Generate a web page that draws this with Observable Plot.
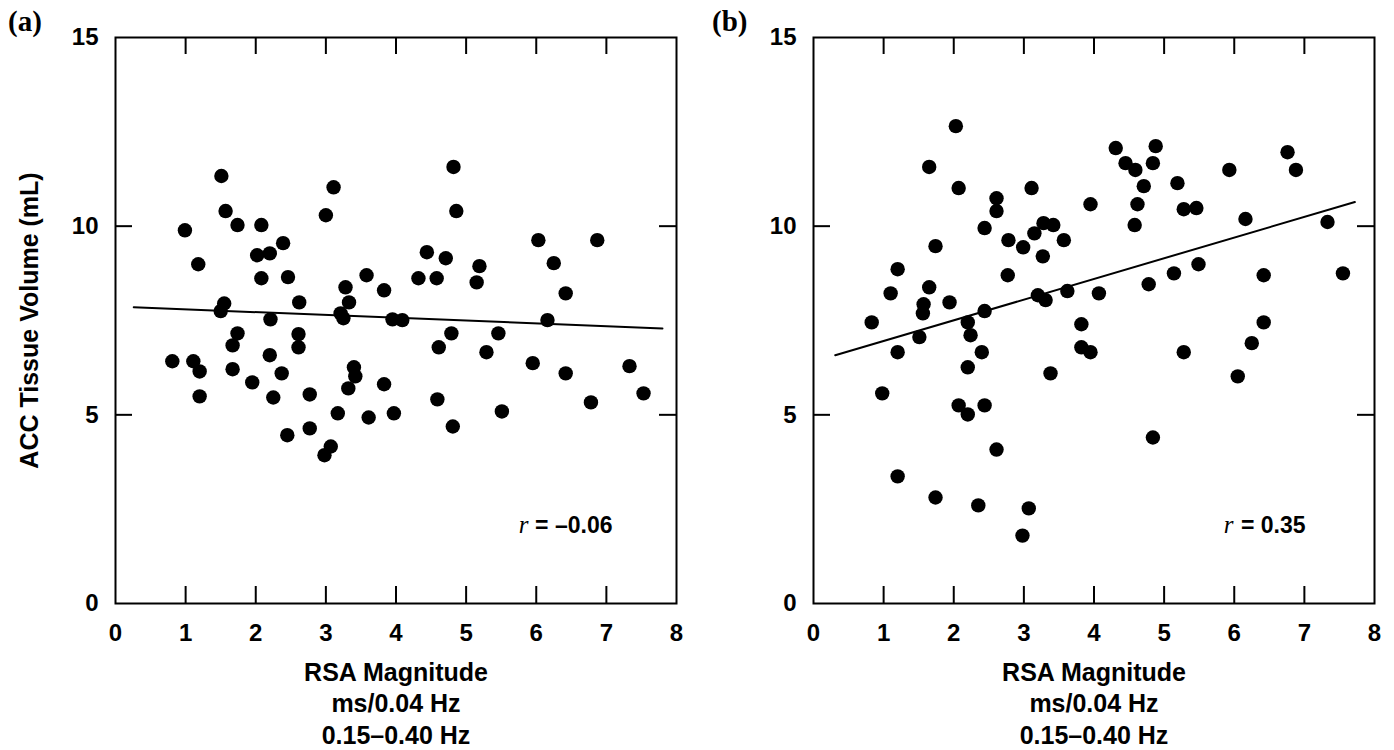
<!DOCTYPE html>
<html><head><meta charset="utf-8">
<script src="https://cdn.jsdelivr.net/npm/d3@7"></script>
<script src="https://cdn.jsdelivr.net/npm/@observablehq/plot@0.6"></script>
<style>
body{margin:0;background:#fff;}
#wrap{position:relative;width:1394px;height:750px;overflow:hidden;background:#fff;}
.panel{position:absolute;top:0;}
.tag{position:absolute;top:7px;line-height:1;font-family:"Liberation Serif","Times New Roman",serif;font-weight:bold;font-size:29px;}
</style></head><body>
<div id="wrap">
 <div class="panel" id="pa" style="left:0"></div>
 <div class="panel" id="pb" style="left:697px"></div>
 <div class="tag" style="left:8px">(a)</div>
 <div class="tag" style="left:712px">(b)</div>
</div>
<script>
// Panel (a) data
const rsaA = [1.51,1.57,0.99,1.74,2.08,1.18,2.02,2.20,2.39,2.08,
  2.46,3.11,3.00,3.58,3.83,3.28,3.33,2.62,1.55,1.50,
  2.21,3.21,3.25,3.95,0.81,1.11,1.20,1.20,1.67,1.74,
  1.67,1.95,2.20,2.37,2.25,2.45,2.61,2.61,2.77,2.77,
  3.07,2.98,3.17,3.40,3.42,3.32,3.61,3.83,3.97,4.82,
  4.86,6.03,6.87,4.44,4.71,5.19,5.15,4.32,4.58,6.25,
  6.42,4.09,6.16,4.79,4.61,5.46,5.29,5.95,6.42,7.33,
  7.53,6.78,4.59,5.51,4.81];
const accA = [11.33,10.40,9.89,10.03,10.03,8.99,9.23,9.28,9.55,8.62,
  8.65,11.03,10.29,8.70,8.30,8.38,7.98,7.98,7.95,7.75,
  7.53,7.69,7.56,7.53,6.42,6.42,6.15,5.49,6.84,7.16,
  6.21,5.86,6.58,6.10,5.46,4.46,7.14,6.79,5.54,4.64,
  4.16,3.93,5.04,6.26,6.02,5.70,4.93,5.81,5.04,11.57,
  10.40,9.63,9.63,9.31,9.15,8.94,8.51,8.62,8.62,9.02,
  8.22,7.51,7.51,7.16,6.79,7.16,6.66,6.37,6.10,6.29,
  5.57,5.33,5.41,5.09,4.69];
const fitAx = [0.26, 7.8];
const fitAy = [7.85, 7.29];
const rTextA = "= \u20130.06";

// Panel (b) data
const rsaB = [2.03,1.65,2.07,3.11,2.61,2.61,2.44,3.28,3.15,2.78,
  2.99,1.74,3.27,1.20,2.77,1.10,1.65,1.57,1.56,1.94,
  2.44,3.20,3.31,0.83,2.20,2.24,1.51,1.20,2.40,2.20,
  3.38,0.98,2.07,2.20,2.44,2.61,1.20,1.74,2.35,3.07,
  2.98,4.31,4.88,4.45,4.59,4.84,4.71,5.19,5.93,6.76,
  6.88,3.95,4.62,4.58,5.28,5.46,6.16,7.33,3.42,3.57,
  3.62,4.07,4.78,5.14,5.49,6.42,7.55,3.82,6.42,3.82,
  3.95,5.28,6.05,6.25,4.84];
const accB = [12.65,11.57,11.01,11.01,10.74,10.40,9.95,10.08,9.81,9.63,
  9.44,9.47,9.20,8.86,8.70,8.22,8.38,7.93,7.69,7.98,
  7.75,8.17,8.04,7.45,7.45,7.11,7.06,6.66,6.66,6.26,
  6.10,5.57,5.25,5.01,5.25,4.08,3.37,2.81,2.60,2.52,
  1.80,12.07,12.12,11.67,11.49,11.67,11.06,11.14,11.49,11.96,
  11.49,10.58,10.58,10.03,10.45,10.48,10.19,10.11,10.03,9.63,
  8.28,8.22,8.46,8.75,8.99,8.70,8.75,7.40,7.45,6.79,
  6.66,6.66,6.02,6.90,4.40];
const fitBx = [0.31, 7.72];
const fitBy = [6.58, 10.64];
const rTextB = "= 0.35";

// Axes
const xTicks = [0,1,2,3,4,5,6,7,8];
const yTicks = [0,5,10,15];
const xInner = [1,2,3,4,5,6,7];
const yInner = [5,10];
const yLabel = "ACC Tissue Volume (mL)";
const xLabelLines = ["RSA Magnitude", "ms/0.04 Hz", "0.15\u20130.40 Hz"];

const SANS = "'Liberation Sans', Arial, Helvetica, sans-serif";
const SERIF = "'Liberation Serif', 'Times New Roman', serif";

function panel(xs, ys, fx, fy, rText, showY, mLeft, mRight, rEnd, rStart) {
  const W = 697, H = 750, mTop = 37, mBottom = 147;
  const fw = W - mLeft - mRight, fh = H - mTop - mBottom;
  const tk = 17;
  const pts = xs.map((x, i) => ({x, y: ys[i]}));
  const fit = fx.map((x, i) => ({x, y: fy[i]}));
  const marks = [
    Plot.frame({stroke: "black", strokeWidth: 2}),
    Plot.tickX(xInner, {x: d => d, insetTop: fh - tk, strokeWidth: 2}),
    Plot.tickX(xInner, {x: d => d, insetBottom: fh - tk, strokeWidth: 2}),
    Plot.tickY(yInner, {y: d => d, insetRight: fw - tk, strokeWidth: 2}),
    Plot.tickY(yInner, {y: d => d, insetLeft: fw - tk, strokeWidth: 2}),
    Plot.axisX(xTicks, {tickSize: 0, tickPadding: 20, fontSize: 24, fontWeight: "bold", label: null, tickFormat: d => String(d)}),
    Plot.axisY(yTicks, {tickSize: 0, tickPadding: 17, fontSize: 24, fontWeight: "bold", label: null, tickFormat: d => String(d)}),
    Plot.line(fit, {x: "x", y: "y", stroke: "black", strokeWidth: 2}),
    Plot.dot(pts, {x: "x", y: "y", r: 7.2, fill: "black", stroke: "none"}),
    Plot.text([rText], {frameAnchor: "bottom-right", dx: rEnd, dy: -71, textAnchor: "end", fontSize: 23, fontWeight: "bold", fontFamily: SANS}),
    Plot.text(["r"], {frameAnchor: "bottom-right", dx: rStart, dy: -71, textAnchor: "end", fontSize: 25, fontStyle: "italic", fontFamily: SERIF}),
    Plot.text([xLabelLines.join("\n")], {frameAnchor: "bottom", dy: 55, lineAnchor: "top", lineHeight: 1.26, fontSize: 25, fontWeight: "bold", fontFamily: SANS})
  ];
  if (showY) {
    marks.push(Plot.text([yLabel], {frameAnchor: "left", rotate: -90, dx: -86, textAnchor: "middle", fontSize: 25, fontWeight: "bold", fontFamily: SANS}));
  }
  return Plot.plot({
    width: W, height: H,
    marginLeft: mLeft, marginRight: mRight, marginTop: mTop, marginBottom: mBottom,
    x: {domain: [0, 8]},
    y: {domain: [0, 15]},
    style: {fontFamily: SANS, background: "white", color: "black", overflow: "visible"},
    marks
  });
}

document.getElementById("pa").appendChild(panel(rsaA, accA, fitAx, fitAy, rTextA, true, 115, 21, -64, -148));
document.getElementById("pb").appendChild(panel(rsaB, accB, fitBx, fitBy, rTextB, false, 116, 20, -69, -141));
</script>
</body></html>
